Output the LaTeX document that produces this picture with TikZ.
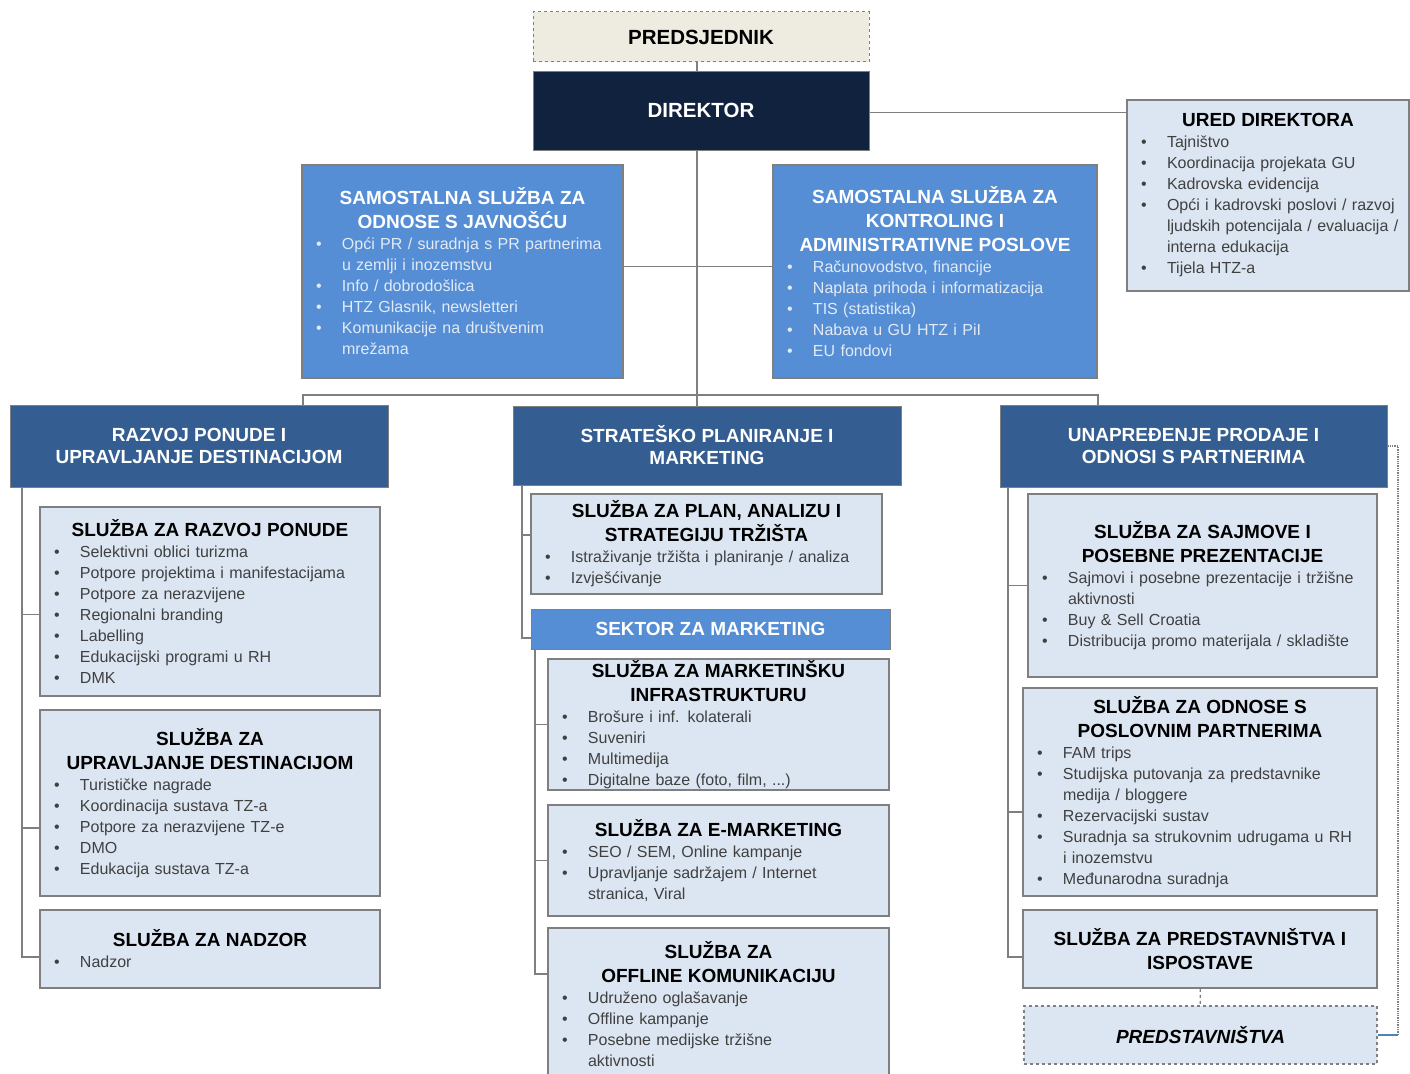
\documentclass[tikz,border=0pt]{standalone}
\usepackage{fontspec}
\setmainfont{Liberation Sans}
\usetikzlibrary{calc}
\definecolor{cNavy}{RGB}{17,34,63}
\definecolor{cHead}{RGB}{52,94,145}
\definecolor{cMid}{RGB}{85,142,213}
\definecolor{cLight}{RGB}{220,230,242}
\definecolor{cBeige}{RGB}{238,236,225}
\definecolor{cLine}{RGB}{127,127,127}
\definecolor{cText}{RGB}{64,64,64}
\definecolor{cPale}{RGB}{226,234,246}
\definecolor{cBlueLine}{RGB}{79,129,189}
\tikzset{
	conn/.style   ={draw=cLine, line width=1.3pt},
	topbox/.style ={rectangle, draw=cLine, dashed, line width=1pt, fill=cBeige, minimum width=336pt, minimum height=50pt, font=\bfseries\fontsize{20.5}{24}\selectfont},
	dirbox/.style ={rectangle, draw=cLine, line width=1pt, fill=cNavy, text=white, minimum width=336pt, minimum height=79pt, font=\bfseries\fontsize{20.5}{24}\selectfont},
	headbox/.style={rectangle, draw=cLine, line width=1pt, fill=cHead, text=white, align=center, font=\bfseries\fontsize{19}{22}\selectfont},
	% boxes with title and bullets
	midbox/.style ={rectangle, draw=cLine, line width=1.5pt, fill=cMid, text=cPale, inner xsep=10pt, inner ysep=2pt, font=\fontsize{16}{21}\selectfont},
	lbox/.style   ={rectangle, draw=cLine, line width=1.5pt, fill=cLight, text=cText, inner xsep=10pt, inner ysep=2pt, font=\fontsize{16}{21}\selectfont},
}
\newcommand{\ttl}[2][black]{{\centering\noindent\color{#1}\bfseries\fontsize{19}{24}\selectfont #2\par}}
\newcommand{\itm}[1]{{\rightskip=-40pt plus 1fil\hangindent=30pt\hangafter=1\noindent\makebox[30pt][l]{\hspace{4pt}\textbullet}#1\par}}

\begin{document}
\begin{tikzpicture}[x=1pt, y=-1pt]
	\useasboundingbox (0,0) rectangle (1410,1073);
	% top level
	\node[topbox] (pred) at (701,37) {PREDSJEDNIK};
	\node[dirbox] (dir) at (701,110.5) {DIREKTOR};
	\node[lbox, text width=262pt, minimum height=191pt] (ured) at (1268,195.5) {\ttl{URED DIREKTORA}
		\itm{Tajništvo}
		\itm{Koordinacija projekata GU}
		\itm{Kadrovska evidencija}
		\itm{Opći i kadrovski poslovi / razvoj\newline ljudskih potencijala / evaluacija /\newline interna edukacija}
		\itm{Tijela HTZ-a}};
	\node[midbox, text width=301pt, minimum height=213pt] (jav) at (462.5,271.5) {\ttl[white]{SAMOSTALNA SLUŽBA ZA\\ODNOSE S JAVNOŠĆU}
		\itm{Opći PR / suradnja s PR partnerima\newline u zemlji i inozemstvu}
		\itm{Info / dobrodošlica}
		\itm{HTZ Glasnik, newsletteri}
		\itm{Komunikacije na društvenim\newline mrežama}};
	\node[midbox, text width=304pt, minimum height=213pt] (kon) at (935,271.5) {\ttl[white]{SAMOSTALNA SLUŽBA ZA\\KONTROLING I\\ADMINISTRATIVNE POSLOVE}
		\itm{Računovodstvo, financije}
		\itm{Naplata prihoda i informatizacija}
		\itm{TIS (statistika)}
		\itm{Nabava u GU HTZ i PiI}
		\itm{EU fondovi}};
	% sectors
	\node[headbox, minimum width=378pt, minimum height=82pt] (raz) at (199,446) {RAZVOJ PONUDE I\\UPRAVLJANJE DESTINACIJOM};
	\node[headbox, minimum width=388pt, minimum height=79pt] (str) at (707,445.5) {STRATEŠKO PLANIRANJE I\\MARKETING};
	\node[headbox, minimum width=387pt, minimum height=82pt] (una) at (1193.5,446) {UNAPREĐENJE PRODAJE I\\ODNOSI S PARTNERIMA};
	% left column
	\node[lbox, text width=320pt, minimum height=189pt] (rpo) at (210,601.5) {\ttl{SLUŽBA ZA RAZVOJ PONUDE}
		\itm{Selektivni oblici turizma}
		\itm{Potpore projektima i manifestacijama}
		\itm{Potpore za nerazvijene}
		\itm{Regionalni branding}
		\itm{Labelling}
		\itm{Edukacijski programi u RH}
		\itm{DMK}};
	\node[lbox, text width=320pt, minimum height=186pt] (upd) at (210,803) {\ttl{SLUŽBA ZA\\UPRAVLJANJE DESTINACIJOM}
		\itm{Turističke nagrade}
		\itm{Koordinacija sustava TZ-a}
		\itm{Potpore za nerazvijene TZ-e}
		\itm{DMO}
		\itm{Edukacija sustava TZ-a}};
	\node[lbox, text width=320pt, minimum height=78pt] (nad) at (210,949) {\ttl{SLUŽBA ZA NADZOR}
		\itm{Nadzor}};
	% middle column
	\node[lbox, text width=331pt, minimum height=100pt] (pla) at (706.5,544) {\ttl{SLUŽBA ZA PLAN, ANALIZU I\\STRATEGIJU TRŽIŠTA}
		\itm{Istraživanje tržišta i planiranje / analiza}
		\itm{Izvješćivanje}};
	\node[headbox, fill=cMid, minimum width=359pt, minimum height=40pt] (sek) at (710.5,629) {SEKTOR ZA MARKETING};
	\node[lbox, text width=321pt, minimum height=131pt, inner ysep=0pt] (inf) at (718.5,724.5) {\ttl{SLUŽBA ZA MARKETINŠKU\\INFRASTRUKTURU}
		\itm{Brošure i inf. kolaterali}
		\itm{Suveniri}
		\itm{Multimedija}
		\itm{Digitalne baze (foto, film, ...)}};
	\node[lbox, text width=321pt, minimum height=111pt] (emk) at (718.5,860.5) {\ttl{SLUŽBA ZA E-MARKETING}
		\itm{SEO / SEM, Online kampanje}
		\itm{Upravljanje sadržajem / Internet\newline stranica, Viral}};
	\node[lbox, text width=321pt, minimum height=152pt] (off) at (718.5,1004) {\ttl{SLUŽBA ZA\\OFFLINE KOMUNIKACIJU}
		\itm{Udruženo oglašavanje}
		\itm{Offline kampanje}
		\itm{Posebne medijske tržišne\newline aktivnosti}};
	% right column
	\node[lbox, text width=329pt, minimum height=183pt] (saj) at (1202.5,585.5) {\ttl{SLUŽBA ZA SAJMOVE I\\POSEBNE PREZENTACIJE}
		\itm{Sajmovi i posebne prezentacije i tržišne\newline aktivnosti}
		\itm{Buy \& Sell Croatia}
		\itm{Distribucija promo materijala / skladište}};
	\node[lbox, text width=334pt, minimum height=208pt] (pos) at (1200,792) {\ttl{SLUŽBA ZA ODNOSE S\\POSLOVNIM PARTNERIMA}
		\itm{FAM trips}
		\itm{Studijska putovanja za predstavnike\newline medija / bloggere}
		\itm{Rezervacijski sustav}
		\itm{Suradnja sa strukovnim udrugama u RH\newline i inozemstvu}
		\itm{Međunarodna suradnja}};
	\node[lbox, text width=334pt, minimum height=78pt] (isp) at (1200,949) {\ttl{SLUŽBA ZA PREDSTAVNIŠTVA I\\ISPOSTAVE}};
	\node[lbox, dashed, text width=333pt, minimum height=58pt] (prd) at (1200.5,1035) {\ttl{\itshape PREDSTAVNIŠTVA}};
	% connectors
	\coordinate (trk) at (697,395);
	\draw[conn] (trk |- pred.south) -- (trk |- dir.north);
	\draw[conn] ([yshift=-2pt]dir.east) -- ([yshift=-2pt]dir.east -| ured.west);
	\draw[conn] (trk |- dir.south) -- (trk |- str.north);
	\draw[conn] ([yshift=5pt]jav.east) -- ([yshift=5pt]kon.west);
	\coordinate (busL) at (303,395);
	\coordinate (busR) at (1098,395);
	\draw[conn] (busL |- raz.north) -- (busL) -- (busR) -- (busR |- una.north);
	\coordinate (spL) at (22,957);
	\draw[conn] (spL |- raz.south) -- (spL) -- (spL -| nad.west);
	\draw[conn] ([yshift=-13pt]spL |- rpo.west) -- ([yshift=-13pt]rpo.west);
	\draw[conn] ([yshift=-25pt]spL |- upd.west) -- ([yshift=-25pt]upd.west);
	\coordinate (spM) at (522,638);
	\draw[conn] (spM |- str.south) -- (spM) -- (spM -| sek.west);
	\draw[conn] ([yshift=9pt]spM |- pla.west) -- ([yshift=9pt]pla.west);
	\coordinate (spS) at (535,974);
	\draw[conn] (spS |- sek.south) -- (spS) -- (spS -| off.west);
	\draw[conn] (spS |- inf.west) -- (inf.west);
	\draw[conn] (spS |- emk.west) -- (emk.west);
	\coordinate (spR) at (1008,957);
	\draw[conn] (spR |- una.south) -- (spR) -- (spR -| isp.west);
	\draw[conn] (spR |- saj.west) -- (saj.west);
	\draw[conn] ([yshift=-20pt]spR |- pos.west) -- ([yshift=-20pt]pos.west);
	\draw[conn, dashed] (isp) -- (prd);
	\coordinate (dotR) at (1398,1035);
	\draw[conn, densely dotted] (una.east) -| (dotR);
	\draw[line width=1.3pt, cBlueLine] (dotR) -- (prd.east);
\end{tikzpicture}
\end{document}
